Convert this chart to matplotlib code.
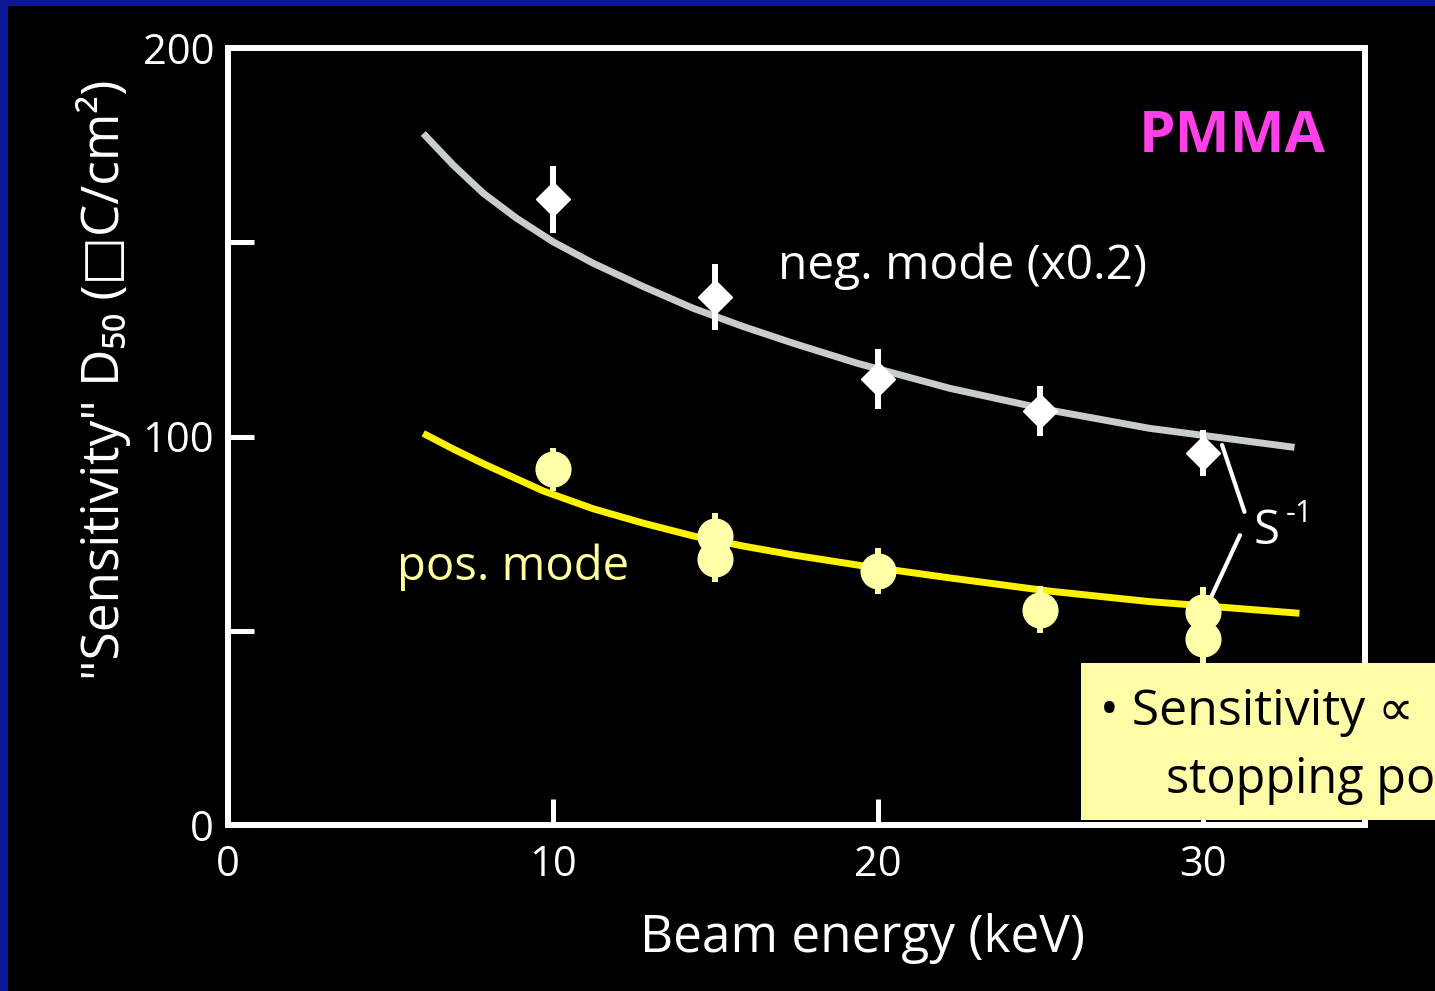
import matplotlib
matplotlib.use("Agg")
import matplotlib.pyplot as plt
from matplotlib.patches import Rectangle

plt.rcParams['font.family'] = ['Open Sans', 'DejaVu Sans']

# --- data ---
energia = [10, 15, 20, 25, 30]
neg_d50 = [161.1, 135.9, 114.8, 106.6, 95.8]          # neg. mode (x0.2)
neg_err = [8.6, 8.5, 7.7, 6.5, 6.0]

pos_e = [10, 15, 15, 20, 25, 30, 30]
pos_d50 = [91.6, 74.4, 68.5, 65.4, 55.4, 54.8, 47.9]
pos_err = [5.5, 6.0, 6.0, 6.0, 6.0, 6.5, 6.5]

# curvas de ajuste S^-1
ajuste_neg_x = [6.01, 6.93, 7.86, 8.88, 10.01, 11.24, 12.78, 14.32, 15.86, 17.40,
                19.39, 22.22, 25.29, 28.37, 32.83]
ajuste_neg_y = [178.0, 169.9, 162.6, 156.2, 150.1, 144.6, 138.6, 133.0, 128.3, 124.0,
                118.8, 112.4, 106.8, 102.1, 97.2]
ajuste_pos_x = [6.01, 6.93, 7.86, 9.70, 11.24, 12.78, 14.32, 15.86, 17.40, 19.39,
                22.22, 25.29, 28.37, 32.98]
ajuste_pos_y = [100.8, 96.8, 93.0, 86.0, 81.4, 77.7, 74.4, 71.8, 69.5, 66.9,
                63.6, 60.2, 57.5, 54.5]

s_inv_flecha_neg = (30.6, 97.8)
s_inv_flecha_pos = (30.15, 56.6)

fig = plt.figure(figsize=(14.35, 9.91), dpi=100)
fig.patch.set_facecolor('#0A1A96')
fig.patches.append(Rectangle((8 / 1435, 0), 1, 1 - 6 / 991, transform=fig.transFigure,
                             facecolor='black', edgecolor='none', zorder=-10))

ax = fig.add_axes([228 / 1435, 166 / 991, 1137 / 1435, 777 / 991])
ax.set_facecolor('black')

# curvas
ax.plot(ajuste_neg_x, ajuste_neg_y, color='#C8CCCA', lw=5, solid_capstyle='butt',
        solid_joinstyle='round', zorder=2)
ax.plot(ajuste_pos_x, ajuste_pos_y, color='#FFF200', lw=5, solid_capstyle='butt',
        solid_joinstyle='round', zorder=2)

# puntos
ax.errorbar(energia, neg_d50, yerr=neg_err, fmt='D', color='white', ms=17,
            elinewidth=4.3, capsize=0, zorder=3)
ax.errorbar(pos_e, pos_d50, yerr=pos_err, fmt='o', color='#FFFFA8', ms=25,
            elinewidth=4.3, capsize=0, zorder=3)

ax.set_xlim(0, 35)
ax.set_ylim(0, 200)
ax.set_xticks([0, 10, 20, 30])
ax.set_yticks([0, 100, 200])
ax.set_yticks([50, 150], minor=True)
ax.tick_params(axis='both', which='both', direction='in', colors='white', width=3.6,
               length=19, labelsize=30, pad=10)
ax.tick_params(axis='x', pad=14)
for lado in ['left', 'bottom', 'top', 'right']:
    ax.spines[lado].set_color('white')
    ax.spines[lado].set_linewidth(4.3)

ax.set_xlabel('Beam energy (keV)', color='white', fontsize=37)
ax.xaxis.set_label_coords(0.558, -0.113)
ax.set_ylabel('"Sensitivity" D\u2085\u2080 (\u25a1C/cm\u00b2)', color='white', fontsize=37)
ax.yaxis.set_label_coords(-0.085, 0.573)

ax.text(0.965, 0.885, 'PMMA', transform=ax.transAxes, color='#FF40E8', fontsize=42,
        fontweight='bold', ha='right', va='center')
ax.text(0.484, 0.719, 'neg. mode (x0.2)', transform=ax.transAxes, color='white',
        fontsize=34.5, ha='left', va='center')
ax.text(0.149, 0.332, 'pos. mode', transform=ax.transAxes, color='#FFFFA0',
        fontsize=34, ha='left', va='center')

# S^-1 con sus dos lineas
ax.text(0.902, 0.378, 'S', transform=ax.transAxes, color='white', fontsize=34,
        ha='left', va='center')
ax.text(0.93, 0.4, '-1', transform=ax.transAxes, color='white', fontsize=22,
        ha='left', va='center')
ax.annotate('', xy=s_inv_flecha_neg, xytext=(0.894, 0.403), textcoords='axes fraction',
            arrowprops=dict(arrowstyle='-', color='white', lw=3, shrinkA=0, shrinkB=0))
ax.annotate('', xy=s_inv_flecha_pos, xytext=(0.890, 0.373), textcoords='axes fraction',
            arrowprops=dict(arrowstyle='-', color='white', lw=3, shrinkA=0, shrinkB=0))

# recuadro amarillo
fig.patches.append(Rectangle((1081 / 1435, (991 - 820) / 991), 1, 157 / 991,
                             transform=fig.transFigure, facecolor='#FFFCA8',
                             edgecolor='none', zorder=5))
fig.text(1100 / 1435, (991 - 712) / 991, '\u2022 Sensitivity \u221d', color='black',
         fontsize=36, va='center', ha='left', zorder=6)
fig.text(1166 / 1435, (991 - 780) / 991, 'stopping po', color='black',
         fontsize=35, va='center', ha='left', zorder=6)

fig.savefig('out.png', dpi=100, facecolor=fig.get_facecolor())
